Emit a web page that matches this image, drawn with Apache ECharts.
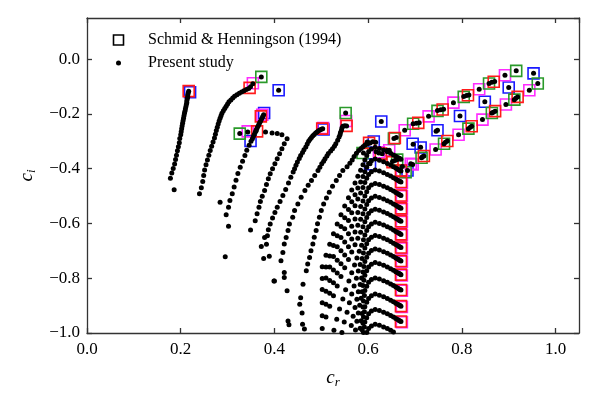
<!DOCTYPE html>
<html>
<head>
<meta charset="utf-8">
<script src="https://cdn.jsdelivr.net/npm/echarts/dist/echarts.min.js"></script>
<style>
  html, body { margin: 0; background: #fff; }
  #main { width: 598px; height: 399px; }
</style>
</head>
<body>
<div id="main"></div>
<script>
// Schmid & Henningson (1994) squares, one array per colour
const sqBlue = [[0.220,-0.121],[0.409,-0.114],[0.378,-0.197],[0.349,-0.299],[0.505,-0.257],[0.612,-0.301],[0.604,-0.384],[0.628,-0.228],[0.684,-0.407],[0.695,-0.309],[0.712,-0.323],[0.748,-0.260],[0.796,-0.208],[0.849,-0.156],[0.900,-0.104],[0.953,-0.052]]
const sqMagenta = [[0.354,-0.088],[0.374,-0.203],[0.343,-0.264],[0.504,-0.252],[0.553,-0.226],[0.645,-0.333],[0.623,-0.340],[0.691,-0.382],[0.892,-0.059],[0.837,-0.110],[0.782,-0.159],[0.729,-0.209],[0.678,-0.260],[0.944,-0.114],[0.894,-0.166],[0.844,-0.221],[0.793,-0.276],[0.744,-0.330],[0.695,-0.385],[0.672,-0.412],[0.672,-0.452],[0.672,-0.501],[0.672,-0.548],[0.672,-0.595],[0.672,-0.643],[0.672,-0.691],[0.672,-0.740],[0.672,-0.790],[0.672,-0.846],[0.672,-0.905],[0.672,-0.961]]
const sqGreen = [[0.372,-0.065],[0.326,-0.272],[0.552,-0.197],[0.588,-0.343],[0.662,-0.367],[0.916,-0.043],[0.858,-0.089],[0.804,-0.138],[0.748,-0.189],[0.696,-0.236],[0.655,-0.290],[0.962,-0.089],[0.912,-0.148],[0.864,-0.197],[0.814,-0.254],[0.762,-0.309],[0.714,-0.360],[0.680,-0.413]]
const sqRed = [[0.217,-0.117],[0.347,-0.105],[0.371,-0.209],[0.363,-0.264],[0.502,-0.254],[0.554,-0.244],[0.602,-0.306],[0.627,-0.345],[0.652,-0.376],[0.868,-0.083],[0.813,-0.132],[0.759,-0.184],[0.707,-0.233],[0.657,-0.288],[0.919,-0.138],[0.871,-0.190],[0.821,-0.245],[0.769,-0.299],[0.719,-0.354],[0.670,-0.407],[0.670,-0.449],[0.670,-0.498],[0.670,-0.545],[0.670,-0.592],[0.670,-0.640],[0.670,-0.688],[0.670,-0.737],[0.670,-0.787],[0.670,-0.843],[0.670,-0.902],[0.670,-0.958]]

// present study: branches
const branch1 = [[0.217,-0.117],[0.216,-0.124],[0.215,-0.131],[0.215,-0.138],[0.214,-0.145],[0.213,-0.152],[0.213,-0.159],[0.212,-0.166],[0.211,-0.174],[0.210,-0.182],[0.209,-0.190],[0.208,-0.198],[0.207,-0.207],[0.206,-0.216],[0.205,-0.225],[0.204,-0.234],[0.203,-0.244],[0.202,-0.254],[0.201,-0.265],[0.200,-0.276],[0.198,-0.290],[0.197,-0.305],[0.195,-0.320],[0.193,-0.335],[0.191,-0.351],[0.189,-0.367],[0.187,-0.383],[0.184,-0.399],[0.181,-0.416],[0.178,-0.435],[0.186,-0.477]]
const branch2 = [[0.354,-0.090],[0.349,-0.101],[0.345,-0.107],[0.340,-0.111],[0.335,-0.116],[0.330,-0.120],[0.325,-0.125],[0.320,-0.130],[0.315,-0.136],[0.311,-0.142],[0.307,-0.149],[0.303,-0.156],[0.300,-0.164],[0.297,-0.172],[0.294,-0.180],[0.291,-0.189],[0.288,-0.198],[0.286,-0.207],[0.284,-0.216],[0.282,-0.226],[0.280,-0.237],[0.278,-0.249],[0.276,-0.261],[0.274,-0.274],[0.272,-0.288],[0.269,-0.303],[0.266,-0.318],[0.263,-0.334],[0.260,-0.351],[0.257,-0.368],[0.254,-0.386],[0.251,-0.405],[0.249,-0.425],[0.247,-0.447],[0.244,-0.470],[0.240,-0.492]]
const branch3 = [[0.377,-0.203],[0.375,-0.210],[0.373,-0.217],[0.371,-0.224],[0.369,-0.231],[0.367,-0.238],[0.365,-0.245],[0.363,-0.252],[0.361,-0.259],[0.359,-0.267],[0.357,-0.275],[0.355,-0.283],[0.353,-0.291],[0.350,-0.300],[0.346,-0.315],[0.341,-0.333],[0.337,-0.352],[0.332,-0.373],[0.327,-0.395],[0.322,-0.418],[0.318,-0.442],[0.314,-0.467],[0.310,-0.492],[0.305,-0.516],[0.302,-0.541],[0.297,-0.568],[0.302,-0.610]]
const branch4 = [[0.381,-0.266],[0.395,-0.270],[0.406,-0.272],[0.416,-0.276],[0.427,-0.291],[0.421,-0.309],[0.416,-0.327],[0.411,-0.346],[0.406,-0.364],[0.401,-0.382],[0.396,-0.400],[0.391,-0.419],[0.387,-0.437],[0.383,-0.458],[0.379,-0.480],[0.374,-0.501],[0.370,-0.520],[0.367,-0.541],[0.363,-0.565],[0.359,-0.590],[0.349,-0.624]]
const branch5 = [[0.503,-0.254],[0.500,-0.256],[0.497,-0.259],[0.494,-0.262],[0.491,-0.266],[0.488,-0.270],[0.485,-0.275],[0.482,-0.280],[0.479,-0.286],[0.476,-0.293],[0.473,-0.300],[0.470,-0.310],[0.467,-0.321],[0.463,-0.331],[0.460,-0.341],[0.456,-0.352],[0.453,-0.363],[0.449,-0.376],[0.446,-0.388],[0.443,-0.400],[0.440,-0.412],[0.435,-0.431],[0.430,-0.452],[0.424,-0.476],[0.418,-0.498],[0.412,-0.520],[0.406,-0.541],[0.401,-0.560],[0.396,-0.580],[0.391,-0.602],[0.387,-0.623],[0.385,-0.645],[0.383,-0.676],[0.389,-0.720],[0.399,-0.810]]
const branch6 = [[0.554,-0.244],[0.550,-0.243],[0.546,-0.245],[0.544,-0.252],[0.543,-0.260],[0.541,-0.268],[0.540,-0.276],[0.538,-0.284],[0.535,-0.296],[0.531,-0.309],[0.528,-0.318],[0.524,-0.327],[0.520,-0.336],[0.515,-0.345],[0.512,-0.354],[0.508,-0.364],[0.505,-0.373],[0.501,-0.382],[0.497,-0.395],[0.493,-0.407],[0.486,-0.425],[0.479,-0.443],[0.472,-0.461],[0.465,-0.480],[0.457,-0.504],[0.450,-0.529],[0.443,-0.553],[0.439,-0.577],[0.432,-0.602],[0.429,-0.626],[0.425,-0.651],[0.421,-0.675],[0.418,-0.706],[0.414,-0.736],[0.421,-0.779]]
const branch7 = [[0.602,-0.306],[0.599,-0.308],[0.596,-0.311],[0.593,-0.315],[0.589,-0.320],[0.585,-0.326],[0.580,-0.334],[0.575,-0.344],[0.570,-0.356],[0.566,-0.368],[0.561,-0.380],[0.555,-0.393],[0.546,-0.407],[0.539,-0.425],[0.532,-0.443],[0.524,-0.464],[0.517,-0.486],[0.511,-0.507],[0.505,-0.529],[0.500,-0.553],[0.496,-0.577],[0.492,-0.601],[0.489,-0.626],[0.485,-0.650],[0.482,-0.675],[0.478,-0.700],[0.475,-0.724],[0.471,-0.748],[0.468,-0.773],[0.461,-0.822],[0.456,-0.871],[0.454,-0.895]]
const upperLine = [[0.916,-0.043],[0.892,-0.059],[0.870,-0.082],[0.864,-0.085],[0.858,-0.089],[0.837,-0.110],[0.815,-0.131],[0.810,-0.133],[0.804,-0.137],[0.782,-0.159],[0.761,-0.183],[0.755,-0.185],[0.748,-0.188],[0.729,-0.209],[0.709,-0.232],[0.703,-0.234],[0.696,-0.236],[0.678,-0.260],[0.660,-0.286],[0.655,-0.290],[0.641,-0.333]]
const lowerLine = [[0.962,-0.089],[0.944,-0.114],[0.919,-0.138],[0.915,-0.143],[0.912,-0.148],[0.894,-0.166],[0.871,-0.190],[0.867,-0.194],[0.864,-0.197],[0.844,-0.221],[0.821,-0.245],[0.818,-0.249],[0.814,-0.254],[0.793,-0.276],[0.769,-0.299],[0.765,-0.304],[0.762,-0.309],[0.744,-0.330],[0.719,-0.354],[0.716,-0.357],[0.714,-0.360],[0.695,-0.385]]
const middleLine = [[0.953,-0.052],[0.900,-0.104],[0.849,-0.156],[0.796,-0.208],[0.748,-0.260],[0.745,-0.263],[0.712,-0.322],[0.696,-0.311],[0.684,-0.407],[0.628,-0.228]]
const cluster = [[0.598,-0.303],[0.604,-0.306],[0.610,-0.302],[0.616,-0.304],[0.590,-0.343],[0.604,-0.382],[0.617,-0.338],[0.623,-0.343],[0.630,-0.346],[0.645,-0.333],[0.652,-0.374],[0.657,-0.370],[0.662,-0.367],[0.673,-0.392],[0.691,-0.382],[0.409,-0.114],[0.372,-0.065],[0.326,-0.272],[0.343,-0.266],[0.361,-0.262],[0.552,-0.197]]
const sparse = [[0.284,-0.523],[0.295,-0.722],[0.379,-0.651],[0.372,-0.684],[0.377,-0.728],[0.400,-0.810],[0.421,-0.797],[0.427,-0.846],[0.429,-0.956],[0.431,-0.970],[0.459,-0.927],[0.464,-0.985],[0.460,-0.968]]

// S-branch fan: c_r lists (wide legs for the upper modes, steeper legs lower down)
const fanXWide = [0.670,0.668,0.666,0.663,0.659,0.654,0.648,0.641,0.633,0.624,0.615,0.607,0.601,0.597,0.593,0.589,0.584,0.578,0.572,0.565,0.558,0.550,0.542,0.534,0.526,0.518,0.510,0.502]
const fanX80 = [0.670,0.668,0.666,0.663,0.659,0.654,0.648,0.641,0.633,0.624,0.615,0.607,0.601,0.597,0.593,0.590,0.586,0.581,0.576,0.571,0.565,0.559,0.552,0.546,0.539,0.533,0.527,0.520]
const fanX65 = [0.670,0.668,0.666,0.663,0.659,0.654,0.648,0.641,0.633,0.624,0.615,0.607,0.601,0.597,0.593,0.590,0.587,0.583,0.579,0.575,0.570,0.565,0.560,0.555,0.549,0.544,0.539,0.534]
const fanX50 = [0.670,0.668,0.666,0.663,0.659,0.654,0.648,0.641,0.633,0.624,0.615,0.607,0.601,0.597,0.593,0.591,0.589,0.586,0.583,0.579,0.576,0.572,0.568,0.564,0.560,0.556,0.552,0.548]
const fanX40 = [0.670,0.668,0.666,0.663,0.659,0.654,0.648,0.641,0.633,0.624,0.615,0.607,0.601,0.597,0.593,0.591,0.589,0.587,0.585,0.582,0.579,0.576,0.573,0.569,0.566,0.563,0.560,0.557]
const fanX30 = [0.670,0.668,0.666,0.663,0.659,0.654,0.648,0.641,0.633,0.624,0.615,0.607,0.601,0.597,0.593,0.592,0.590,0.589,0.587,0.585,0.583,0.580,0.578,0.575,0.573,0.571,0.568,0.566]
const fanY = [
  [-0.366,-0.364,-0.362,-0.359,-0.355,-0.350,-0.344,-0.338,-0.332,-0.326,-0.322,-0.328,-0.338,-0.352,-0.368,-0.386,-0.406,-0.428,-0.452,-0.478,-0.506,-0.536,-0.568,-0.602,-0.638,-0.676,-0.716,-0.758],
  [-0.409,-0.407,-0.405,-0.402,-0.398,-0.393,-0.387,-0.381,-0.375,-0.369,-0.365,-0.371,-0.381,-0.395,-0.411,-0.429,-0.449,-0.471,-0.495,-0.521,-0.549,-0.579,-0.611,-0.645,-0.681,-0.719,-0.759,-0.801],
  [-0.449,-0.447,-0.445,-0.442,-0.438,-0.433,-0.427,-0.421,-0.415,-0.409,-0.405,-0.411,-0.421,-0.435,-0.451,-0.469,-0.489,-0.511,-0.535,-0.561,-0.589,-0.619,-0.651,-0.685,-0.721,-0.759,-0.799,-0.841],
  [-0.498,-0.496,-0.494,-0.491,-0.487,-0.482,-0.476,-0.470,-0.464,-0.458,-0.454,-0.460,-0.470,-0.484,-0.500,-0.518,-0.538,-0.560,-0.584,-0.610,-0.638,-0.668,-0.700,-0.734,-0.770,-0.808,-0.848,-0.890],
  [-0.545,-0.543,-0.541,-0.538,-0.534,-0.529,-0.523,-0.517,-0.511,-0.505,-0.501,-0.507,-0.517,-0.531,-0.547,-0.565,-0.585,-0.607,-0.631,-0.657,-0.685,-0.715,-0.747,-0.781,-0.817,-0.855,-0.895,-0.937],
  [-0.592,-0.590,-0.588,-0.585,-0.581,-0.576,-0.570,-0.564,-0.558,-0.552,-0.548,-0.554,-0.564,-0.578,-0.594,-0.612,-0.632,-0.654,-0.678,-0.704,-0.732,-0.762,-0.794,-0.828,-0.864,-0.902,-0.942,-0.984],
  [-0.640,-0.638,-0.636,-0.633,-0.629,-0.624,-0.618,-0.612,-0.606,-0.600,-0.596,-0.602,-0.612,-0.626,-0.642,-0.660,-0.680,-0.702,-0.726,-0.752,-0.780,-0.810,-0.842,-0.876,-0.912,-0.950,-0.990],
  [-0.688,-0.686,-0.684,-0.681,-0.677,-0.672,-0.666,-0.660,-0.654,-0.648,-0.644,-0.650,-0.660,-0.674,-0.690,-0.708,-0.728,-0.750,-0.774,-0.800,-0.828,-0.858,-0.890,-0.924,-0.960,-0.998],
  [-0.737,-0.735,-0.733,-0.730,-0.726,-0.721,-0.715,-0.709,-0.703,-0.697,-0.693,-0.699,-0.709,-0.723,-0.739,-0.757,-0.777,-0.799,-0.823,-0.849,-0.877,-0.907,-0.939,-0.973],
  [-0.787,-0.785,-0.783,-0.780,-0.776,-0.771,-0.765,-0.759,-0.753,-0.747,-0.743,-0.749,-0.759,-0.773,-0.789,-0.807,-0.827,-0.849,-0.873,-0.899,-0.927,-0.957,-0.989],
  [-0.843,-0.841,-0.839,-0.836,-0.832,-0.827,-0.821,-0.815,-0.809,-0.803,-0.799,-0.805,-0.815,-0.829,-0.845,-0.863,-0.883,-0.905,-0.929,-0.955,-0.983],
  [-0.902,-0.900,-0.898,-0.895,-0.891,-0.886,-0.880,-0.874,-0.868,-0.862,-0.858,-0.864,-0.874,-0.888,-0.904,-0.922,-0.942,-0.964,-0.988],
  [-0.958,-0.956,-0.954,-0.951,-0.947,-0.942,-0.936,-0.930,-0.924,-0.918,-0.914,-0.920,-0.930,-0.944,-0.960,-0.978,-0.998],
  [-1.012,-1.010,-1.008,-1.005,-1.001,-0.996,-0.990,-0.984,-0.978,-0.972,-0.968,-0.974,-0.984,-0.998]
]
// which c_r list each fan trajectory uses
const fanXOf = [fanXWide, fanXWide, fanXWide, fanXWide, fanXWide, fanXWide, fanX80, fanX65, fanX50, fanX40, fanX30, fanX30, fanX30, fanX30]

const serif = '"Liberation Serif", "DejaVu Serif", serif'

function echartInit() {
  const chartDom = document.getElementById('main')
  const myChart = echarts.init(chartDom, null, { renderer: 'canvas' })

  const dots = [].concat(branch1, branch2, branch3, branch4, branch5, branch6, branch7,
    upperLine, lowerLine, middleLine, cluster, sparse)
  fanY.forEach((arc, k) => {
    arc.forEach((y, i) => {
      if (y >= -1.0) dots.push([fanXOf[k][i], y])
    })
  })

  const fmt = v => v.toFixed(1).replace('-', '\u2212')
  const labelStyle = { color: '#000', fontFamily: serif, fontSize: 17 }
  const lineStyle = { color: '#333', width: 1.3 }
  const nameRich = {
    c: { fontFamily: serif, fontStyle: 'italic', fontSize: 19, color: '#000' },
    s: { fontFamily: serif, fontStyle: 'italic', fontSize: 13, color: '#000', padding: [10, 0, 0, 0] },
  }

  const squareSeries = (name, color, data) => ({
    name,
    type: 'scatter',
    symbol: 'rect',
    symbolSize: 11,
    silent: true,
    itemStyle: { color: 'rgba(0,0,0,0)', borderColor: color, borderWidth: 1.6, opacity: 1 },
    data,
  })

  const frameAxis = (extra) => Object.assign({
    type: 'value',
    axisLine: { onZero: false, lineStyle },
    axisTick: { inside: true, length: 5, lineStyle },
    splitLine: { show: false },
  }, extra)

  const option = {
    animation: false,
    backgroundColor: '#fff',
    grid: { left: 87, right: 19, top: 18, bottom: 66 },
    xAxis: [
      frameAxis({
        min: 0, max: 1.05, interval: 0.2,
        name: '{c|c}{s|r}', nameLocation: 'middle', nameGap: 33,
        nameTextStyle: { rich: nameRich },
        axisLabel: { ...labelStyle, margin: 8, formatter: fmt, showMaxLabel: false },
      }),
      frameAxis({
        position: 'top', min: 0, max: 1.05, interval: 0.2,
        axisLabel: { show: false },
      }),
    ],
    yAxis: [
      frameAxis({
        min: -1.0, max: 0.15, interval: 0.2,
        name: '{c|c}{s|i}', nameLocation: 'middle', nameGap: 48,
        nameTextStyle: { rich: nameRich },
        axisLabel: { ...labelStyle, margin: 7, formatter: fmt, showMaxLabel: false },
      }),
      frameAxis({
        position: 'right', min: -1.0, max: 0.15, interval: 0.2,
        axisLabel: { show: false },
      }),
    ],
    graphic: [
      { type: 'rect', shape: { x: 113.5, y: 35, width: 10, height: 10 }, style: { fill: 'none', stroke: '#000', lineWidth: 1.6 } },
      { type: 'text', left: 148, top: 32, style: { text: 'Schmid & Henningson (1994)', font: '16px ' + serif, fill: '#000' } },
      { type: 'circle', shape: { cx: 118.5, cy: 63, r: 2.5 }, style: { fill: '#000' } },
      { type: 'text', left: 148, top: 55, style: { text: 'Present study', font: '16px ' + serif, fill: '#000' } },
    ],
    series: [
      squareSeries('sqBlue', '#1a1aff', sqBlue),
      squareSeries('sqMagenta', '#ff2bff', sqMagenta),
      squareSeries('sqGreen', '#2a9a2a', sqGreen),
      squareSeries('sqRed', '#ff1a1a', sqRed),
      {
        name: 'Present study',
        type: 'scatter',
        symbol: 'circle',
        symbolSize: 5,
        silent: true,
        itemStyle: { color: '#000', opacity: 1 },
        data: dots,
      },
    ],
  }

  option && myChart.setOption(option)
}

echartInit()
</script>
</body>
</html>
